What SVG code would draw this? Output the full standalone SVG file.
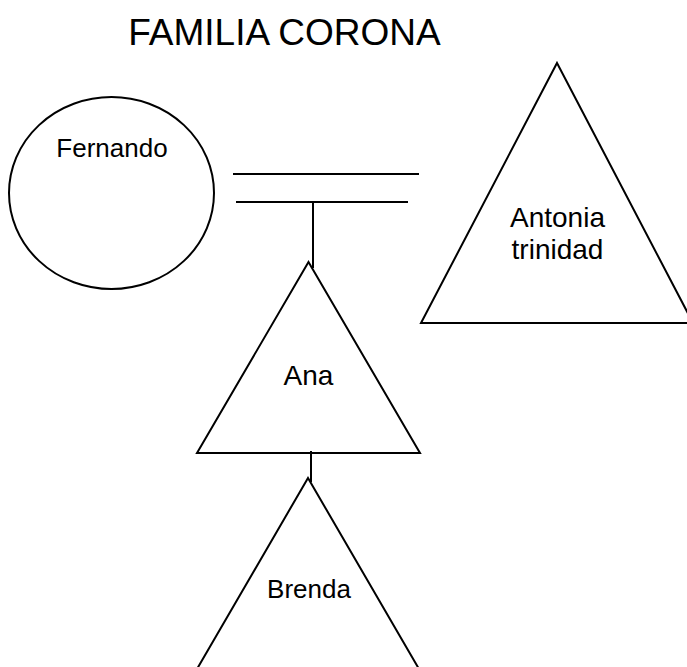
<svg xmlns="http://www.w3.org/2000/svg" width="687" height="667" viewBox="0 0 687 667">
<style>
.shape{fill:#fff;stroke:#000;stroke-width:2}
.conn line{stroke:#000;stroke-width:2}
text{font-family:"Liberation Sans",Arial,sans-serif;fill:#000;text-anchor:middle}
</style>
<rect width="687" height="667" fill="#fff"/>
<text id="title" x="284.5" y="45" font-size="37">FAMILIA CORONA</text>
<g id="fernando">
<ellipse class="shape" cx="111.5" cy="193" rx="102.5" ry="96"/>
<text x="112" y="157" font-size="26">Fernando</text>
</g>
<g id="antonia">
<polygon class="shape" points="557,63 693,323 421,323"/>
<text x="557.5" y="227" font-size="28">Antonia</text>
<text x="557.5" y="259" font-size="28">trinidad</text>
</g>
<g id="ana">
<polygon class="shape" points="308.5,262 420,453 197,453"/>
<text x="308.5" y="385" font-size="28">Ana</text>
</g>
<g id="brenda">
<polygon class="shape" points="308,478 419,669 197,669"/>
<text x="309" y="598" font-size="26">Brenda</text>
</g>
<g id="connectors" class="conn">
<line x1="233" y1="174" x2="419" y2="174"/>
<line x1="236" y1="202" x2="408" y2="202"/>
<line x1="313" y1="202" x2="313" y2="268"/>
<line x1="311" y1="451" x2="311" y2="482"/>
</g>
</svg>
